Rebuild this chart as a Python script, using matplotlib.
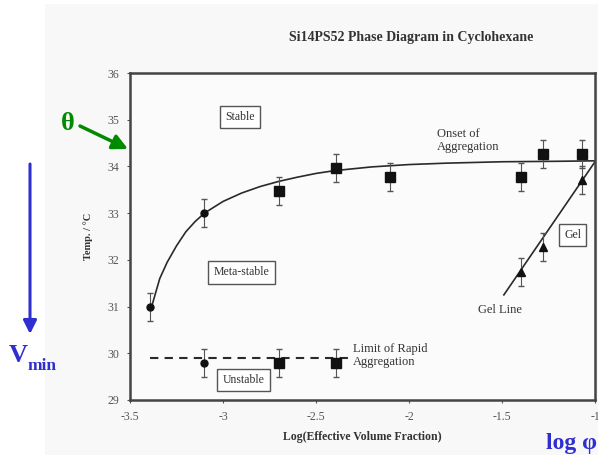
import matplotlib.pyplot as plt
from matplotlib.patches import Rectangle

plt.rcParams['font.family'] = ['Liberation Serif', 'DejaVu Serif']

# onset of aggregation (circles then squares)
onset_circ_x = [-3.39, -3.1]
onset_circ_y = [31.0, 33.0]
onset_sq_x = [-2.7, -2.39, -2.1, -1.4, -1.28, -1.07]
onset_sq_y = [33.48, 33.97, 33.78, 33.78, 34.27, 34.27]
onset_err = 0.3

# hand-drawn fit curve
curve_x = [-3.38, -3.34, -3.3, -3.25, -3.2, -3.15, -3.1, -3.0, -2.9, -2.8, -2.7,
           -2.6, -2.5, -2.4, -2.2, -2.0, -1.8, -1.5, -1.2, -1.0]
curve_y = [31.05, 31.6, 31.95, 32.3, 32.6, 32.82, 33.0, 33.25, 33.43, 33.57, 33.68,
           33.77, 33.85, 33.91, 33.99, 34.04, 34.07, 34.1, 34.11, 34.12]

# gel line
gel_x = [-1.4, -1.28, -1.07]
gel_y = [31.74, 32.28, 33.7]
gel_line_x = [-1.49, -1.0]
gel_line_y = [31.25, 34.1]

# limit of rapid aggregation
lim_circ_x = [-3.1]
lim_circ_y = [29.8]
lim_sq_x = [-2.7, -2.39]
lim_sq_y = [29.8, 29.8]
lim_line_x = [-3.39, -2.3]
lim_line_y = [29.9, 29.9]

fig = plt.figure(figsize=(5.98, 4.59), dpi=100)
fig.patches.append(Rectangle((45, 4), 553, 451, transform=None, facecolor='#f8f8f8',
                             edgecolor='none', zorder=-5))
ax = fig.add_axes([130/598, 59/459, 465/598, 327/459])
ax.set_facecolor('#fbfbfb')

ink = '#2a2a2a'
ax.plot(curve_x, curve_y, color=ink, lw=1.2)
ax.plot(gel_line_x, gel_line_y, color=ink, lw=1.2)
ax.plot(lim_line_x, lim_line_y, color=ink, lw=1.5, ls=(0, (4, 3)))

eb = dict(ecolor='#555555', elinewidth=0.8, capsize=2, ls='none', color='#111111')
ax.errorbar(onset_circ_x, onset_circ_y, yerr=onset_err, marker='o', ms=5, **eb)
ax.errorbar(onset_sq_x, onset_sq_y, yerr=onset_err, marker='s', ms=6.5, **eb)
ax.errorbar(gel_x, gel_y, yerr=0.3, marker='^', ms=5.5, **eb)
ax.errorbar(lim_circ_x, lim_circ_y, yerr=0.3, marker='o', ms=5, **eb)
ax.errorbar(lim_sq_x, lim_sq_y, yerr=0.3, marker='s', ms=6.5, **eb)

ax.set_xlim(-3.5, -1)
ax.set_ylim(29, 36)
ax.set_xticks([-3.5, -3, -2.5, -2, -1.5, -1])
ax.set_xticklabels(['-3.5', '-3', '-2.5', '-2', '-1.5', '-1'])
ax.set_yticks(range(29, 37))
ax.tick_params(labelsize=8.5, colors='#555555', length=2, width=0.8, pad=6)
for s in ax.spines.values():
    s.set_color('#444444')
    s.set_linewidth(1.8)

ax.set_xlabel('Log(Effective Volume Fraction)', fontsize=8.5, color='#333333',
              fontweight='bold', labelpad=6)
ax.set_ylabel('Temp. / °C', fontsize=7.5, color='#333333', fontweight='bold', labelpad=10)
fig.text(411/598, 1 - 37/459, 'Si14PS52 Phase Diagram in Cyclohexane', fontsize=10,
         color='#333333', fontweight='bold', ha='center', va='center')

box = dict(boxstyle='square,pad=0.45', facecolor='white', edgecolor='#555555', lw=1.0)
tk = dict(fontsize=8.5, color='#333333', ha='center', va='center')
ax.text(-2.91, 35.06, 'Stable', bbox=box, **tk)
ax.text(-2.9, 31.73, 'Meta-stable', bbox=box, **tk)
ax.text(-2.89, 29.43, 'Unstable', bbox=box, **tk)
ax.text(-1.12, 32.53, 'Gel', bbox=box, **tk)
ax.text(-1.85, 34.55, 'Onset of\nAggregation', fontsize=9, color='#333333',
        ha='left', va='center', linespacing=1.1)
ax.text(-2.3, 29.96, 'Limit of Rapid\nAggregation', fontsize=9, color='#333333',
        ha='left', va='center', linespacing=1.1)
ax.text(-1.51, 30.93, 'Gel Line', fontsize=9, color='#333333', ha='center', va='center')

# slide annotations
green = '#008a00'
blue = '#2f2fd0'
fig.text(68, 336, 'θ', transform=None, fontsize=19, fontweight='bold', color=green,
         ha='center', va='center')
ax.annotate('', xy=(128, 310), xycoords='figure pixels', xytext=(80, 333),
            textcoords='figure pixels', annotation_clip=False,
            arrowprops=dict(arrowstyle='-|>,head_length=0.9,head_width=0.45',
                            color=green, lw=2.5, shrinkA=0, shrinkB=0))
ax.annotate('', xy=(30, 125), xycoords='figure pixels', xytext=(30, 295),
            textcoords='figure pixels', annotation_clip=False,
            arrowprops=dict(arrowstyle='-|>,head_length=0.8,head_width=0.4',
                            color=blue, lw=2.2, shrinkA=0, shrinkB=0))
fig.text(18, 104, 'V', transform=None, fontsize=19, fontweight='bold', color=blue,
         ha='center', va='center')
fig.text(28, 93, 'min', transform=None, fontsize=12.5, fontweight='bold', color=blue,
         ha='left', va='center')
fig.text(572, 16, 'log φ', transform=None, fontsize=17, fontweight='bold', color=blue,
         ha='center', va='center')

fig.savefig('out.png', dpi=100)
